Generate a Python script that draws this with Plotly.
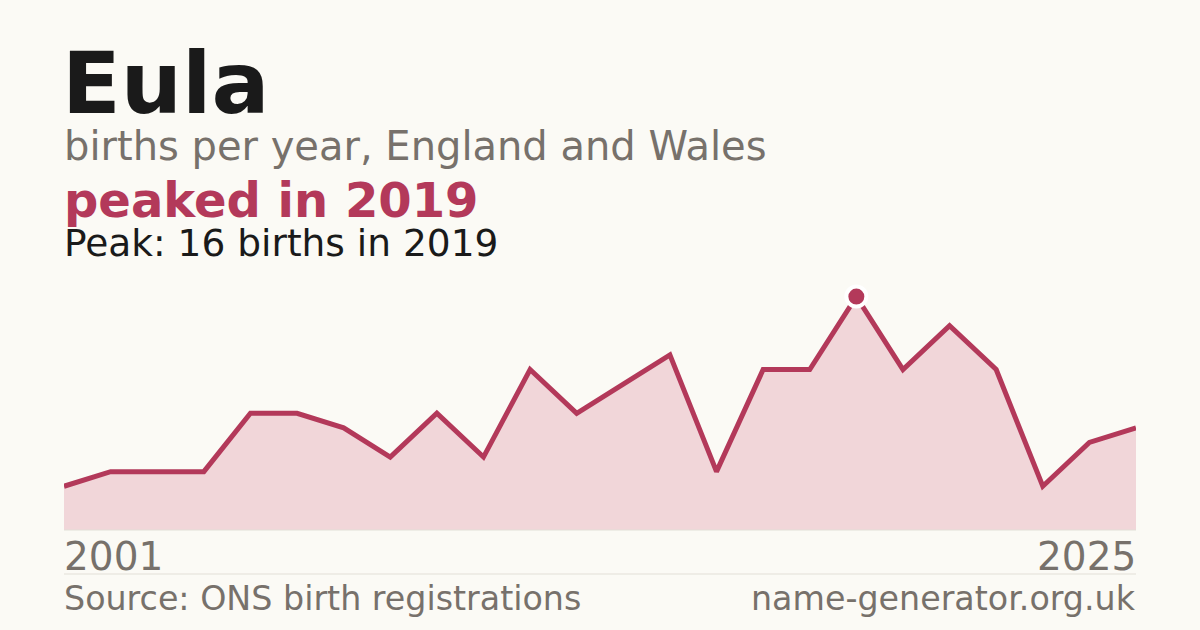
import plotly.graph_objects as go

# births per year (one year is absent from the series, points sit at equal steps)
years = ["2001", "2002", "2003", "2004", "2005", "2006", "2007", "2008",
         "2009", "2010", "2011", "2012", "2013", "2014", "2015", "2016",
         "2017", "2019", "2020", "2021", "2022", "2023", "2024", "2025"]
births = [3, 4, 4, 4, 8, 8, 7, 5, 8, 5, 11, 8, 10, 12, 4, 11, 11, 16, 11, 14, 11, 3, 6, 7]
# the peak gets its own dot
peak_year = ["2019"]
peak_births = [16]

W, H = 1200, 630
BG = "#fbfaf5"
RED = "#b3395a"
GREY = "#77716b"
INK = "#1a1a1a"
FONT = "DejaVu Sans"

# plot box in pixels
left, right, top, bottom = 64, 1136, 282, 530

fig = go.Figure()

fig.add_trace(go.Scatter(
    x=years, y=births,
    mode="lines",
    line=dict(color=RED, width=5),
    fill="tozeroy",
    fillcolor="rgba(220,140,160,0.32)",
    hoverinfo="x+y",
    showlegend=False,
))

fig.add_trace(go.Scatter(
    x=peak_year, y=peak_births,
    mode="markers",
    marker=dict(color=RED, size=20, line=dict(color="white", width=4)),
    showlegend=False,
    cliponaxis=False,
))


def px_x(p):
    return p / W


def px_y(p):
    return 1 - p / H


def label(text, x, y, size, color, bold=False, anchor="left"):
    fig.add_annotation(
        text=f"<b>{text}</b>" if bold else text,
        xref="paper", yref="paper",
        x=px_x(x), y=px_y(y),
        xanchor=anchor, yanchor="middle",
        showarrow=False,
        font=dict(family=FONT, size=size, color=color),
    )


label("Eula", 60, 83, 86, INK, bold=True)
label("births per year, England and Wales", 62, 146, 40, GREY)
# headline and peak note share one box so they sit tight like the original
fig.add_annotation(
    text=(f"<span style='font-size:48px;color:{RED}'><b>peaked in 2019</b></span>"
          f"<br><span style='font-size:37.5px;color:{INK}'>Peak: 16 births in 2019</span>"),
    xref="paper", yref="paper", x=px_x(62), y=px_y(218),
    xanchor="left", yanchor="middle", align="left", showarrow=False,
    font=dict(family=FONT, size=30, color=INK),
)
label(years[0], 62, 556, 39, GREY)
label(years[-1], 1138, 556, 39, GREY, anchor="right")
label("Source: ONS birth registrations", 62, 598, 33.3, GREY)
label("name-generator.org.uk", 1138, 598, 33.3, GREY, anchor="right")

# thin rules: chart baseline and footer separator
for yy in (530, 574):
    fig.add_shape(type="line", xref="paper", yref="paper",
                  x0=px_x(left), x1=px_x(right), y0=px_y(yy), y1=px_y(yy),
                  line=dict(color="#e2dfd7", width=1))

fig.update_layout(
    width=W, height=H,
    margin=dict(l=0, r=0, t=0, b=0),
    paper_bgcolor=BG, plot_bgcolor=BG,
    font=dict(family=FONT),
    xaxis=dict(
        type="category",
        domain=[px_x(left), px_x(right)],
        range=[0, len(years) - 1],
        showgrid=False, zeroline=False, showticklabels=False,
        showline=False, fixedrange=True,
    ),
    yaxis=dict(
        domain=[px_y(bottom), px_y(top)],
        range=[0, 17],
        showgrid=False, zeroline=False, showticklabels=False,
        showline=False, fixedrange=True,
    ),
)

fig.write_html(
    "out.html",
    config={"displayModeBar": False},
    post_script=f"document.body.style.margin='0';document.body.style.background='{BG}';",
)
